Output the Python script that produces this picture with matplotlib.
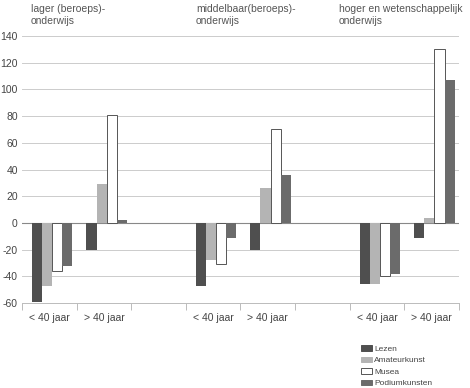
import matplotlib
matplotlib.use("Agg")
import matplotlib.pyplot as plt
from matplotlib.patches import Patch
import numpy as np

plt.rcParams["font.family"] = ["Liberation Sans", "DejaVu Sans"]

series = ["Lezen", "Amateurkunst", "Musea", "Podiumkunsten"]
groups = ["lager (beroeps)-\nonderwijs", "middelbaar(beroeps)-\nonderwijs", "hoger en wetenschappelijk\nonderwijs"]
age_labels = ["< 40 jaar", "> 40 jaar"]

# values per slot: [lager<40, lager>40, midd<40, midd>40, hoger<40, hoger>40]
lezen = [-59, -20, -47, -20, -46, -11]
amateur = [-47, 29, -28, 26, -46, 4]
musea = [-36, 81, -31, 70, -40, 130]
podium = [-32, 2, -11, 36, -38, 107]

values = [lezen, amateur, musea, podium]
colors = ["#4f4f4f", "#b4b4b4", "#ffffff", "#6b6b6b"]
edges = ["none", "none", "#555555", "none"]

slots = [0, 1, 3, 4, 6, 7]
yticks = list(range(-60, 141, 20))

W, H = 470, 388
fig = plt.figure(figsize=(W / 100, H / 100), dpi=100)
ax = fig.add_axes([22 / W, 1 - 303 / H, (459 - 22) / W, (303 - 36) / H])

bw = 0.185
start = 0.18
for i, (vals, c, e) in enumerate(zip(values, colors, edges)):
    xs = [s + start + bw * (i + 0.5) for s in slots]
    ax.bar(xs, vals, width=bw, color=c, edgecolor=e, linewidth=0.7, zorder=3)

ax.set_xlim(0, 8)
ax.set_ylim(-60, 140)
for y in yticks:
    if y == -60:
        continue
    ax.axhline(y, color="#888888" if y == 0 else "#cccccc", lw=0.8 if y == 0 else 0.7, zorder=1)

for sp in ["top", "right", "left"]:
    ax.spines[sp].set_visible(False)
ax.spines["bottom"].set_color("#bbbbbb")
ax.spines["bottom"].set_linewidth(0.7)

ax.set_yticks(yticks)
ax.set_yticklabels([str(v) for v in yticks], fontsize=7.5, color="#444444")
ax.tick_params(axis="y", length=0, pad=3)

ax.set_xticks(range(0, 9))
ax.set_xticklabels([])
ax.tick_params(axis="x", which="major", length=5, color="#bbbbbb", width=0.7)
ax.set_xticks([s + 0.5 for s in slots], minor=True)
ax.set_xticklabels(age_labels * 3, minor=True, fontsize=7.5, color="#444444")
ax.tick_params(axis="x", which="minor", length=0, pad=7)

title_x = [31, 196, 339]
for gx, g in zip(title_x, groups):
    fig.text(gx / W, 1 - 4 / H, g, ha="left", va="top", fontsize=7.5, color="#555555", linespacing=1.2)

handles = [Patch(facecolor=c, edgecolor=(e if e != "none" else c), linewidth=0.7) for c, e in zip(colors, edges)]
leg = fig.legend(handles, series, loc="upper left", bbox_to_anchor=(357 / W, 1 - 341 / H),
                 frameon=False, fontsize=6, handlelength=1.35, handleheight=0.65,
                 handletextpad=0.2, labelspacing=0.45, borderpad=0)
for t in leg.get_texts():
    t.set_color("#444444")

fig.savefig("out.png", dpi=100)
